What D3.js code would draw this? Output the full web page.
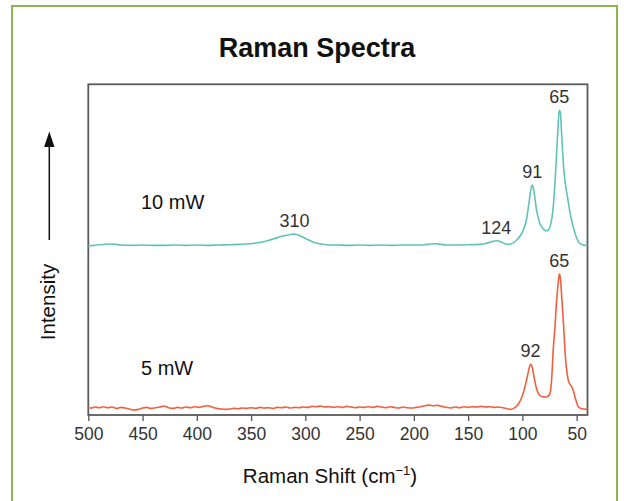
<!DOCTYPE html>
<html>
<head>
<meta charset="utf-8">
<script src="https://cdn.jsdelivr.net/npm/d3@7/dist/d3.min.js"></script>
<style>
  body { margin: 0; background: #fff; }
  svg { display: block; font-family: "Liberation Sans", Arial, Helvetica, sans-serif; }
</style>
</head>
<body>
<div id="chart"></div>
<script>
// Raman shift ticks (cm-1), reversed axis
const shiftTicks = [500, 450, 400, 350, 300, 250, 200, 150, 100, 50];

// 10 mW spectrum: [shift, intensity (arb.)]
const spectrum10mW = [
  [500, 51.2], [495, 51.3], [490, 51.5], [485, 51.6], [480, 51.7], [475, 51.6],
  [470, 51.4], [460, 51.3], [450, 51.4], [440, 51.3], [430, 51.3], [420, 51.4],
  [410, 51.3], [400, 51.4], [390, 51.3], [380, 51.4], [370, 51.5], [360, 51.6],
  [350, 51.8], [345, 52.0], [340, 52.3], [335, 52.7], [330, 53.2], [325, 53.7],
  [320, 54.2], [315, 54.5], [311, 54.7], [308, 54.6], [305, 54.2], [300, 53.4],
  [295, 52.6], [290, 52.0], [285, 51.7], [280, 51.5], [270, 51.4], [260, 51.3],
  [250, 51.4], [240, 51.3], [230, 51.4], [220, 51.3], [210, 51.4], [200, 51.4],
  [190, 51.5], [185, 51.7], [180, 51.8], [175, 51.6], [170, 51.4], [160, 51.4],
  [150, 51.5], [140, 51.6], [135, 51.8], [130, 52.2], [126, 52.6], [123, 52.7],
  [120, 52.4], [116, 51.8], [112, 51.6], [108, 52.1], [105, 53.0], [102, 54.2],
  [99, 56.0], [96, 59.5], [94, 64.0], [92, 68.5], [91, 69.5], [90, 68.8],
  [88, 64.5], [87, 62.0], [86, 60.5], [84, 58.0], [82, 56.8], [80, 56.0],
  [78, 55.7], [76, 56.0], [74, 57.5], [72, 61.5], [70, 70.0], [68, 82.0],
  [67, 88.0], [66, 92.2], [65, 91.5], [64, 86.0], [63, 80.0], [62, 75.0],
  [60, 69.0], [59, 67.0], [58, 65.0], [56, 61.0], [54, 58.0], [52, 55.5],
  [50, 53.5], [48, 52.2], [46, 51.7], [44, 51.4], [42, 51.3], [40, 51.2]
];

// 5 mW spectrum: [shift, intensity (arb.)]
const spectrum5mW = [
  [500, 2.3], [497, 2.1], [494, 2.4], [490, 2.2], [486, 2.5], [482, 2.2],
  [478, 2.4], [474, 2.0], [470, 2.3], [466, 2.1], [462, 1.8], [458, 1.5],
  [454, 1.7], [450, 2.1], [446, 2.3], [442, 2.0], [438, 2.2], [434, 2.4],
  [430, 2.7], [426, 2.2], [422, 2.0], [418, 2.3], [414, 2.1], [410, 2.4],
  [406, 2.2], [402, 2.5], [398, 2.3], [394, 2.6], [390, 2.8], [386, 2.4],
  [382, 2.0], [378, 1.8], [374, 1.7], [370, 1.8], [366, 2.0], [362, 1.9],
  [358, 2.1], [354, 2.0], [350, 2.2], [346, 2.0], [342, 2.3], [338, 2.1],
  [334, 2.2], [330, 2.0], [326, 2.3], [322, 2.2], [318, 2.4], [314, 2.1],
  [310, 2.3], [306, 2.2], [302, 2.4], [298, 2.3], [294, 2.6], [290, 2.5],
  [286, 2.7], [282, 2.4], [278, 2.5], [274, 2.3], [270, 2.5], [266, 2.3],
  [262, 2.6], [258, 2.4], [254, 2.2], [250, 2.4], [246, 2.3], [242, 2.5],
  [238, 2.3], [234, 2.6], [230, 2.4], [226, 2.2], [222, 2.5], [218, 2.3],
  [214, 2.1], [210, 2.4], [206, 2.2], [202, 2.1], [198, 2.3], [194, 2.5],
  [190, 2.8], [186, 3.0], [182, 2.8], [178, 2.9], [174, 2.6], [170, 2.3],
  [166, 2.1], [162, 2.4], [158, 2.2], [154, 2.5], [150, 2.3], [146, 2.5],
  [142, 2.4], [138, 2.6], [134, 2.4], [130, 2.5], [126, 2.3], [122, 2.4],
  [118, 2.2], [114, 1.9], [111, 1.7], [108, 2.0], [105, 2.8], [102, 4.3],
  [100, 5.8], [98, 8.0], [96, 10.8], [94, 13.8], [92.5, 15.3], [91, 14.5],
  [89, 11.0], [87, 8.0], [85, 6.4], [83, 5.7], [81, 5.5], [79, 5.4],
  [77, 5.6], [75, 6.2], [74, 7.5], [73, 11.0], [71.6, 19.7], [70, 26.5],
  [68.4, 34.8], [67, 40.0], [66, 42.6], [65, 41.5], [63.6, 34.8], [62, 27.0],
  [60.8, 19.7], [59.5, 14.5], [57.8, 10.6], [56, 9.2], [54.6, 8.6], [53, 7.3],
  [51.6, 5.5], [50, 3.8], [48.5, 2.5], [46, 2.0], [43, 1.8], [40, 1.7]
];

// peak annotations: [series, shift, label]
const peakLabels = [
  ['10mW', 310, '310'], ['10mW', 124, '124'], ['10mW', 91, '91'], ['10mW', 66, '65'],
  ['5mW', 92.5, '92'], ['5mW', 66, '65']
];

const seriesNames = ['10 mW', '5 mW'];
const seriesColors = ['#5fc4b6', '#f0603e'];

const width = 624, height = 501;
const plot = { left: 88.3, right: 587.5, top: 84.3, bottom: 415 };

const svg = d3.select('#chart').append('svg')
  .attr('width', width)
  .attr('height', height);

// green outer box
svg.append('rect')
  .attr('x', 12).attr('y', 6)
  .attr('width', 605).attr('height', 510)
  .attr('fill', 'none')
  .attr('stroke', '#8db454')
  .attr('stroke-width', 2);

// title
svg.append('text')
  .attr('x', 317).attr('y', 57)
  .attr('text-anchor', 'middle')
  .attr('font-size', 27)
  .attr('font-weight', 'bold')
  .attr('fill', '#111')
  .text('Raman Spectra');

const x = d3.scaleLinear().domain([500, 40]).range([plot.left, plot.right]);
const y = d3.scaleLinear().domain([0, 100]).range([plot.bottom, plot.top]);

// x axis
const xAxis = svg.append('g')
  .attr('transform', `translate(0,${plot.bottom})`)
  .call(d3.axisBottom(x).tickValues(shiftTicks).tickSize(6).tickPadding(7).tickSizeOuter(0));
xAxis.select('.domain').remove();
xAxis.selectAll('line').attr('stroke', '#555').attr('stroke-width', 1.3);
xAxis.selectAll('text')
  .attr('font-size', 17.5)
  .attr('fill', '#333')
  .style('font-family', '"Liberation Sans", Arial, sans-serif');

// frame
svg.append('rect')
  .attr('x', plot.left).attr('y', plot.top)
  .attr('width', plot.right - plot.left).attr('height', plot.bottom - plot.top)
  .attr('fill', 'none')
  .attr('stroke', '#5a5a5a')
  .attr('stroke-width', 1.8);

// spectra
const line = d3.line()
  .x(d => x(d[0]))
  .y(d => y(d[1]))
  .curve(d3.curveMonotoneX);

const spectra = { '10mW': spectrum10mW, '5mW': spectrum5mW };
[spectrum10mW, spectrum5mW].forEach((data, i) => {
  svg.append('path')
    .datum(data)
    .attr('d', line)
    .attr('fill', 'none')
    .attr('stroke', seriesColors[i])
    .attr('stroke-width', 1.6)
    .attr('stroke-linejoin', 'round');
});

// peak labels
peakLabels.forEach(([key, shift, label]) => {
  const near = spectra[key].filter(d => Math.abs(d[0] - shift) <= 3);
  const top = d3.max(near, d => d[1]);
  svg.append('text')
    .attr('x', x(shift))
    .attr('y', y(top) - 7)
    .attr('text-anchor', 'middle')
    .attr('font-size', 18)
    .attr('fill', '#333')
    .text(label);
});

// series labels
svg.append('text')
  .attr('x', 141).attr('y', 209)
  .attr('font-size', 20)
  .attr('fill', '#111')
  .text(seriesNames[0]);
svg.append('text')
  .attr('x', 141).attr('y', 375)
  .attr('font-size', 20)
  .attr('fill', '#111')
  .text(seriesNames[1]);

// intensity arrow + label
svg.append('line')
  .attr('x1', 49.3).attr('x2', 49.3)
  .attr('y1', 240).attr('y2', 146)
  .attr('stroke', '#111')
  .attr('stroke-width', 1.5);
svg.append('path')
  .attr('d', 'M49.3,131.5 L54.5,147 L44.1,147 Z')
  .attr('fill', '#111');
svg.append('text')
  .attr('transform', 'translate(55,302) rotate(-90)')
  .attr('text-anchor', 'middle')
  .attr('font-size', 20.5)
  .attr('fill', '#111')
  .text('Intensity');

// x axis title with superscript
const xt = svg.append('text')
  .attr('x', 330).attr('y', 483)
  .attr('text-anchor', 'middle')
  .attr('font-size', 20.5)
  .attr('fill', '#111');
xt.append('tspan').text('Raman Shift (cm');
xt.append('tspan').attr('font-size', 13).attr('dy', -8).text('\u22121');
xt.append('tspan').attr('dy', 8).text(')');
</script>
</body>
</html>
